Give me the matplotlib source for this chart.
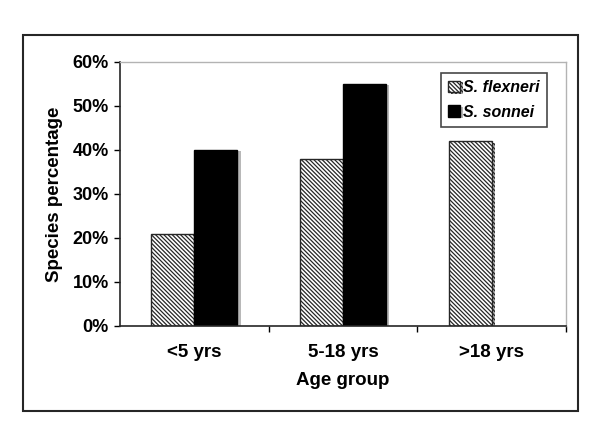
import matplotlib
matplotlib.use("Agg")
import matplotlib.pyplot as plt
import matplotlib.patheffects as pe
import numpy as np
from matplotlib.patches import Rectangle

categories = ["<5 yrs", "5-18 yrs", ">18 yrs"]
flexneri = [21, 38, 42]
sonnei = [40, 55, 0]
yticks = [0, 10, 20, 30, 40, 50, 60]
ytick_labels = ["0%", "10%", "20%", "30%", "40%", "50%", "60%"]

plt.rcParams['font.family'] = ['Liberation Sans', 'DejaVu Sans']
plt.rcParams['hatch.linewidth'] = 0.9
plt.rcParams['hatch.color'] = '0.3'

fig = plt.figure(figsize=(6, 4.43), dpi=100)
fig.patches.append(Rectangle((23/600, 1-411/443), (578-23)/600, (411-35)/443,
                             transform=fig.transFigure, fill=False,
                             edgecolor='0.15', linewidth=1.5))
ax = fig.add_axes([120/600, 1-326/443, 446/600, (326-62)/443])

x = np.arange(len(categories))
w = 0.29
shadow = [pe.SimplePatchShadow(offset=(2.2, -1), shadow_rgbFace='0.72', alpha=1.0), pe.Normal()]
b1 = ax.bar(x - w/2, flexneri, w, color='white', edgecolor='0.15', hatch='\\' * 8,
            linewidth=1.0, label='S. flexneri', path_effects=shadow)
vals = [v if v > 0 else np.nan for v in sonnei]
b2 = ax.bar(x + w/2, vals, w, color='black', edgecolor='black',
            linewidth=1.0, label='S. sonnei', path_effects=shadow)

ax.set_xlim(-0.5, 2.5)
ax.set_ylim(0, 60)
ax.set_yticks(yticks)
ax.set_yticklabels(ytick_labels, fontsize=13, fontweight='bold')
ax.set_xticks(x)
ax.set_xticklabels(categories, fontsize=13.5, fontweight='bold')
ax.set_xticks([0.5, 1.5, 2.5], minor=True)
ax.tick_params(axis='x', which='major', length=0, pad=13)
ax.tick_params(axis='x', which='minor', length=4, width=1, direction='out')
ax.tick_params(axis='y', length=4, width=1, direction='out', pad=4)

for s in ['left', 'bottom']:
    ax.spines[s].set_color('0.15')
    ax.spines[s].set_linewidth(1.2)
for s in ['top', 'right']:
    ax.spines[s].set_color('0.7')
    ax.spines[s].set_linewidth(1.0)

ax.set_ylabel('Species percentage', fontsize=13.5, fontweight='bold', labelpad=7)
ax.set_xlabel('Age group', fontsize=13.5, fontweight='bold', labelpad=8)

leg = ax.legend(loc='upper right', bbox_to_anchor=(547/600, 1-73/443),
                bbox_transform=fig.transFigure,
                prop={'weight': 'bold', 'style': 'italic', 'size': 11.5},
                frameon=True, fancybox=False, edgecolor='0.1',
                handlelength=0.75, handleheight=0.75, handletextpad=0.2,
                borderpad=0.45, labelspacing=0.6, borderaxespad=0)
leg.get_frame().set_linewidth(1.2)

fig.savefig('out.png', dpi=100)
